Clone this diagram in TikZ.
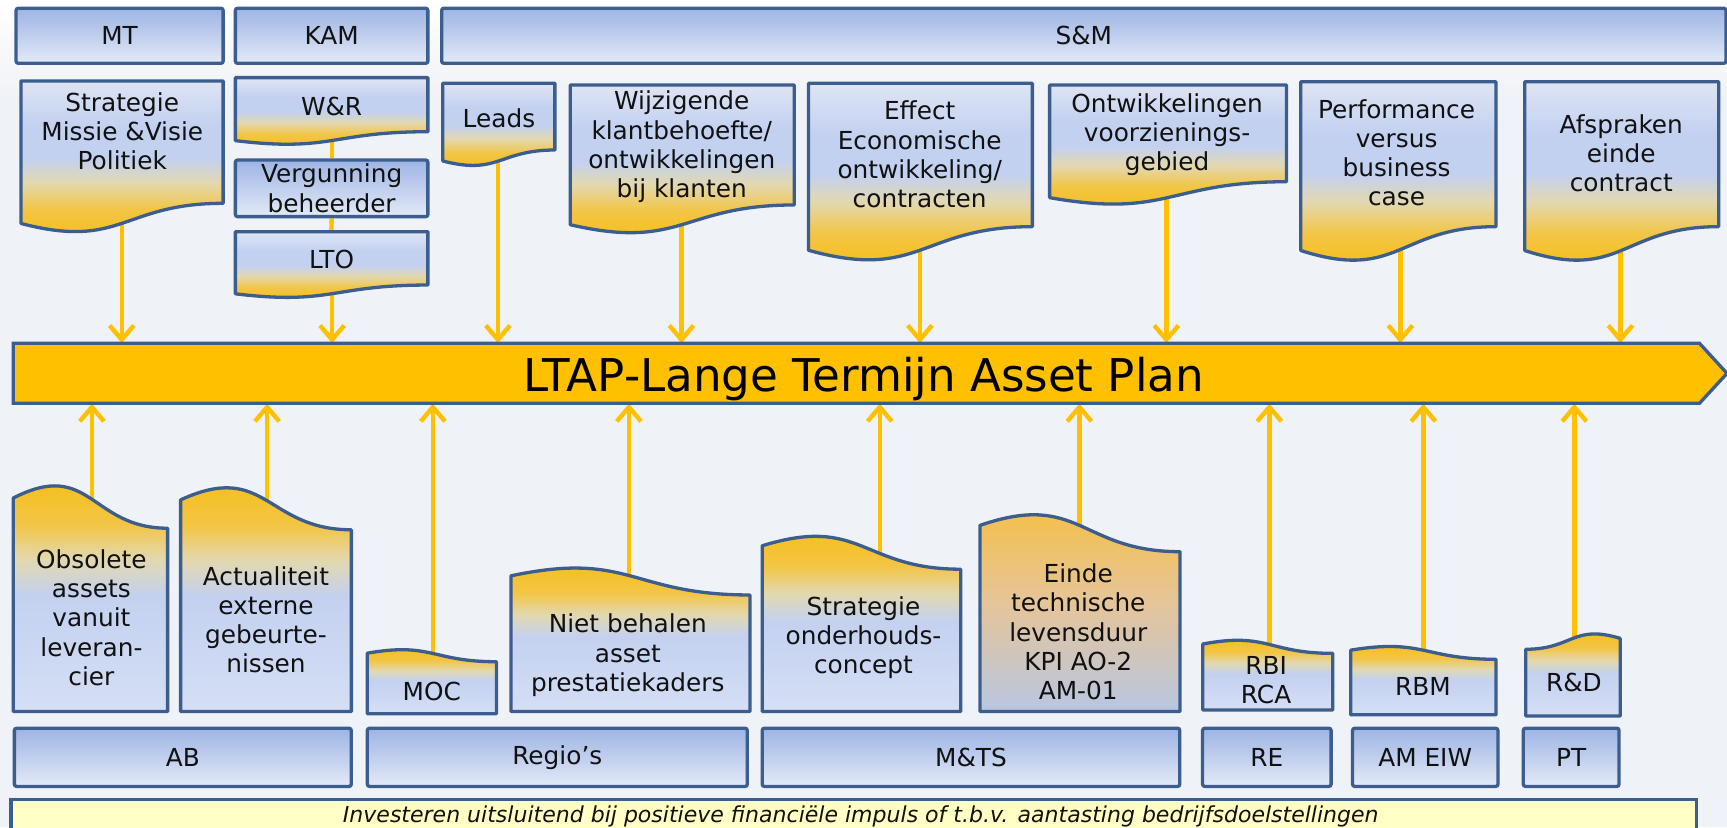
\documentclass[tikz,border=0pt]{standalone}
\usepackage{fontspec}
\setmainfont{DejaVu Sans}
\usetikzlibrary{arrows.meta}
\definecolor{bord}{HTML}{3B5E8F}
\definecolor{arrowc}{HTML}{FFC000}
\definecolor{gold}{HTML}{F6BD0A}
\definecolor{goldb}{HTML}{F3C545}
\definecolor{pale}{HTML}{E2D8B0}
\definecolor{lblue}{HTML}{C3D1F0}
\definecolor{tlight}{HTML}{DEE4F4}
\definecolor{blight}{HTML}{D5DFF5}
\definecolor{boxtop}{HTML}{9DB4E4}
\definecolor{boxbot}{HTML}{E4EAF7}
\definecolor{bgc}{HTML}{EFF2F6}
\definecolor{foot}{HTML}{FFFFC6}
\definecolor{orA}{HTML}{F7BE3A}
\definecolor{orB}{HTML}{E6C598}
\definecolor{orC}{HTML}{B8C6E2}
\definecolor{txt}{HTML}{111111}
\pgfdeclareverticalshading{docdn}{100bp}{color(0bp)=(gold); color(25bp)=(gold); color(37bp)=(goldb); color(45bp)=(pale); color(52bp)=(lblue); color(62bp)=(lblue); color(75bp)=(tlight); color(100bp)=(tlight)}
\pgfdeclareverticalshading{docup}{100bp}{color(0bp)=(blight); color(25bp)=(blight); color(48bp)=(lblue); color(55bp)=(pale); color(62bp)=(goldb); color(75bp)=(gold); color(100bp)=(gold)}
\pgfdeclareverticalshading{docor}{100bp}{color(0bp)=(orC); color(25bp)=(orC); color(50bp)=(orB); color(75bp)=(orA); color(100bp)=(orA)}
\pgfdeclarelayer{back}
\pgfdeclarelayer{bgl}
\pgfsetlayers{back,bgl,main}
\newcommand{\dnDoc}[4]{%
  \pgfmathsetmacro{\dHh}{(#4-#3)/0.802}%
  \pgfmathsetmacro{\dYl}{#3+0.934*\dHh}%
  \pgfmathsetmacro{\dYc}{#3+1.1075*\dHh}%
  \pgfmathsetmacro{\dXm}{(#1+#2)/2}%
  \shadedraw[doc, shading=docdn] (#1,#3) -- (#2,#3) -- (#2,#4) .. controls (\dXm,#4) and (\dXm,\dYc) .. (#1,\dYl) -- cycle;}
\newcommand{\upDoc}[5][docup]{%
  \pgfmathsetmacro{\dHh}{(#4-#5)/0.802}%
  \pgfmathsetmacro{\dYl}{#4-0.934*\dHh}%
  \pgfmathsetmacro{\dYc}{#4-1.1075*\dHh}%
  \pgfmathsetmacro{\dXm}{(#2+#3)/2}%
  \shadedraw[doc, shading=#1] (#2,#4) -- (#3,#4) -- (#3,#5) .. controls (\dXm,#5) and (\dXm,\dYc) .. (#2,\dYl) -- cycle;}
\begin{document}
\begin{tikzpicture}[x=1pt,y=-1pt,
  doc/.style={draw=bord, line width=3pt, line join=round},
  box/.style={draw=bord, line width=3pt, rounded corners=2pt, top color=boxtop, bottom color=boxbot, inner sep=0pt, align=center, text=txt, font=\fontsize{22.5}{26.5}\selectfont},
  lbl/.style={font=\fontsize{22.5}{26.5}\selectfont, align=center, inner sep=0pt, text=txt},
  arr/.style={draw=arrowc, line width=4pt, -{Straight Barb[length=13pt, width=22pt]}},
  conn/.style={draw=arrowc, line width=4pt}]
\useasboundingbox (0,0) rectangle (1568,751);
\begin{pgfonlayer}{back}
  \fill[bgc] (0,0) rectangle (1568,751);
  \shade[top color=white, bottom color=bgc] (0,0) rectangle (1568,90);
\end{pgfonlayer}
% top row
\node[box, minimum width=188pt, minimum height=50pt] (mt) at (108.6,32.5) {MT};
\node[box, minimum width=174.8pt, minimum height=50pt] (kam) at (301.1,32.5) {KAM};
\node[box, minimum width=1166pt, minimum height=50pt] (sm) at (984,32.5) {S\&M};
% top documents
\dnDoc{19}{202.6}{73.5}{184.6}
\dnDoc{213.7}{388.5}{70.5}{119.6}
\node[box, minimum width=174.8pt, minimum height=51.4pt] (verg) at (301.1,171) {Vergunning\\beheerder};
\dnDoc{213.7}{388.5}{210.4}{258.8}
\dnDoc{402}{503.8}{75.6}{136.2}
\dnDoc{517.7}{721.2}{77.2}{186.1}
\dnDoc{734}{937.3}{75.6}{205.8}
\dnDoc{953}{1168}{77.2}{165}
\dnDoc{1181}{1358.3}{74.2}{205.8}
\dnDoc{1384.3}{1560.4}{74.2}{205.8}
\node[lbl] (strat) at (111,118.9) {Strategie\\Missie \&Visie\\Politiek};
\node[lbl] (wr) at (301,96.4) {W\&R};
\node[lbl] (lto) at (301,235.6) {LTO};
\node[lbl] (leads) at (453,107) {Leads};
\node[lbl] (wijz) at (619,133.4) {Wijzigende\\klantbehoefte/\\ontwikkelingen\\bij klanten};
\node[lbl] (eff) at (835,140.2) {Effect\\Economische\\ontwikkeling/\\contracten};
\node[lbl] (ontw) at (1059.6,122) {Ontwikkelingen\\voorzienings-\\gebied};
\node[lbl] (perf) at (1268,138.6) {Performance\\versus\\business\\case};
\node[lbl] (afsp) at (1472,139.4) {Afspraken\\einde\\contract};
% LTAP bar
\draw[draw=bord, line width=3pt, fill=arrowc, line join=miter] (12,311.7) -- (1543,311.7) -- (1568,339) -- (1543,366.2) -- (12,366.2) -- cycle;
\node[minimum width=1531pt, minimum height=54.5pt, inner sep=0pt] (bar) at (777.5,339) {};
\node[font=\fontsize{41}{48}\selectfont, inner sep=0pt, text=black] (bartxt) at (784.4,344) {LTAP-Lange Termijn Asset Plan};
% bottom documents
\upDoc{12}{152.2}{646}{479.6}
\upDoc{164}{319}{646}{481}
\upDoc{333.5}{450.7}{648}{600.8}
\upDoc{464}{681}{646}{540.2}
\upDoc{692}{872.3}{646}{516.8}
\upDoc[docor]{889.7}{1071.4}{646}{500.9}
\upDoc{1092}{1210}{644.6}{593.2}
\upDoc{1226.3}{1358.3}{649}{598.6}
\shadedraw[doc, shading=docup] (1385.2,650) -- (1471,650) -- (1471,579.6) .. controls (1428,566.5) and (1428,589.5) .. (1385.2,589.5) -- cycle;
\node[lbl] (obs) at (83,560.8) {Obsolete\\assets\\vanuit\\leveran-\\cier};
\node[lbl] (act) at (241.5,562.7) {Actualiteit\\externe\\gebeurte-\\nissen};
\node[lbl] (moc) at (392,627.6) {MOC};
\node[lbl] (niet) at (570,594.9) {Niet behalen\\asset\\prestatiekaders};
\node[lbl] (sond) at (784,579.1) {Strategie\\onderhouds-\\concept};
\node[lbl] (einde) at (979,573.6) {Einde\\technische\\levensduur\\KPI AO-2\\AM-01};
\node[lbl] (rbi) at (1149.5,617.5) {RBI\\RCA};
\node[lbl] (rbm) at (1292,623) {RBM};
\node[lbl] (rd) at (1429,620) {R\&D};
% bottom row
\node[box, minimum width=305.9pt, minimum height=52.8pt] (ab) at (166,687.6) {AB};
\node[box, minimum width=345pt, minimum height=52.8pt] (regio) at (506,687.6) {Regio’s};
\node[box, minimum width=379.2pt, minimum height=52.8pt] (mts) at (881.6,687.6) {M\&TS};
\node[box, minimum width=116.7pt, minimum height=52.8pt] (re) at (1150.2,687.6) {RE};
\node[box, minimum width=132pt, minimum height=52.8pt] (amei) at (1294,687.6) {AM EIW};
\node[box, minimum width=87pt, minimum height=52.8pt] (pt) at (1426.5,687.6) {PT};
% footer
\draw[draw=bord, line width=3pt, fill=foot] (10,725.7) rectangle (1540,765);
\node[font=\fontsize{20}{24}\selectfont\itshape, inner sep=0pt, text=txt] (footer) at (781.5,741) {Investeren uitsluitend bij positieve financiële impuls of t.b.v. aantasting bedrijfsdoelstellingen};
% connector origins
\coordinate (o-strat) at (110.5,190);
\coordinate (o-lto) at (301.5,250);
\coordinate (o-leads) at (452,130);
\coordinate (o-wijz) at (618.7,190);
\coordinate (o-eff) at (835.2,215);
\coordinate (o-ontw) at (1059,170);
\coordinate (o-perf) at (1271.4,215);
\coordinate (o-afsp) at (1471.2,215);
\coordinate (o-obs) at (83.4,470);
\coordinate (o-act) at (242.5,470);
\coordinate (o-moc) at (393,610);
\coordinate (o-niet) at (571,535);
\coordinate (o-sond) at (798.7,515);
\coordinate (o-einde) at (980,490);
\coordinate (o-rbi) at (1152.5,600);
\coordinate (o-rbm) at (1292.3,600);
\coordinate (o-rd) at (1429.4,592);
\coordinate (o-wr) at (301.5,115);
\coordinate (i-lto) at (300.5,230);
\begin{pgfonlayer}{bgl}
  \draw[conn] (o-wr) -- (o-wr |- verg.north);
  \draw[conn] (verg.south) -- (i-lto);
  \foreach \c in {strat,lto,leads,wijz,eff,ontw,perf,afsp}
    \draw[arr] (o-\c) -- (o-\c |- bar.north);
  \foreach \c in {obs,act,moc,niet,sond,einde,rbi,rbm,rd}
    \draw[arr] (o-\c) -- (o-\c |- bar.south);
\end{pgfonlayer}
\end{tikzpicture}
\end{document}
